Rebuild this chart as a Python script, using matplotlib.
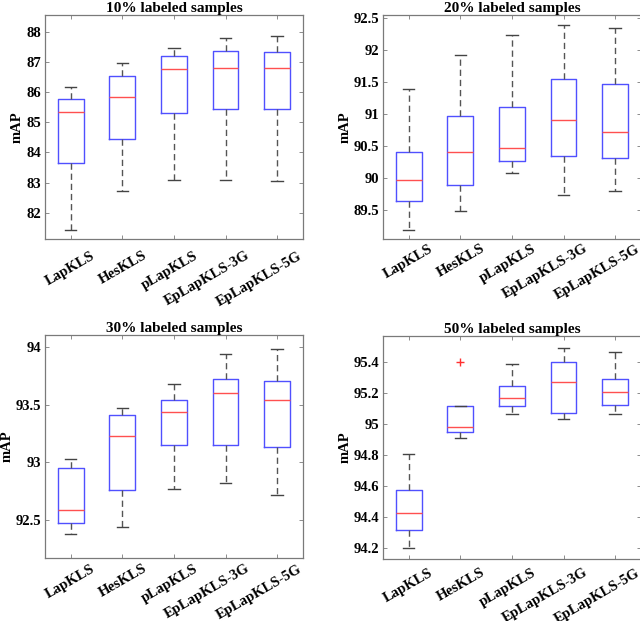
import matplotlib
matplotlib.use("Agg")
import matplotlib.pyplot as plt
import matplotlib.transforms as mtransforms

plt.rcParams['font.family'] = ['Liberation Serif', 'DejaVu Serif']
plt.rcParams['font.weight'] = 'bold'

methods = ["LapKLS", "HesKLS", "pLapKLS", "EpLapKLS-3G", "EpLapKLS-5G"]
titles = ["10% labeled samples", "20% labeled samples",
          "30% labeled samples", "50% labeled samples"]

# box statistics per panel: lower whisker, Q1, median, Q3, upper whisker
lo_10 = [81.43, 82.73, 83.10, 83.07, 83.04]
q1_10 = [83.64, 84.44, 85.29, 85.43, 85.44]
med_10 = [85.33, 85.85, 86.76, 86.78, 86.78]
q3_10 = [85.78, 86.52, 87.20, 87.37, 87.31]
hi_10 = [86.15, 86.97, 87.47, 87.78, 87.85]

lo_20 = [89.18, 89.48, 90.08, 89.73, 89.79]
q1_20 = [89.64, 89.89, 90.26, 90.34, 90.31]
med_20 = [89.96, 90.41, 90.46, 90.90, 90.72]
q3_20 = [90.40, 90.96, 91.11, 91.54, 91.47]
hi_20 = [91.39, 91.92, 92.23, 92.39, 92.35]

lo_30 = [92.385, 92.44, 92.77, 92.82, 92.72]
q1_30 = [92.48, 92.76, 93.155, 93.15, 93.13]
med_30 = [92.59, 93.23, 93.44, 93.60, 93.54]
q3_30 = [92.95, 93.41, 93.54, 93.72, 93.70]
hi_30 = [93.03, 93.47, 93.68, 93.94, 93.98]

lo_50 = [94.198, 94.91, 95.067, 95.036, 95.065]
q1_50 = [94.32, 94.95, 95.116, 95.073, 95.125]
med_50 = [94.43, 94.985, 95.17, 95.275, 95.21]
q3_50 = [94.576, 95.116, 95.245, 95.40, 95.29]
hi_50 = [94.81, 95.116, 95.39, 95.49, 95.465]
fliers_50 = [[], [95.40], [], [], []]

panels = [
    (lo_10, q1_10, med_10, q3_10, hi_10, [[]] * 5),
    (lo_20, q1_20, med_20, q3_20, hi_20, [[]] * 5),
    (lo_30, q1_30, med_30, q3_30, hi_30, [[]] * 5),
    (lo_50, q1_50, med_50, q3_50, hi_50, fliers_50),
]
ylims = [(81.13, 88.55), (89.04, 92.55), (92.175, 94.10), (94.13, 95.57)]
yticks = [[82, 83, 84, 85, 86, 87, 88],
          [89.5, 90, 90.5, 91, 91.5, 92, 92.5],
          [92.5, 93, 93.5, 94],
          [94.2, 94.4, 94.6, 94.8, 95, 95.2, 95.4]]

# axes rectangles (figure fraction), ylabel x (axes fraction),
# and vertical shift of the rotated x labels (inches)
rects = [[0.0703, 0.6151, 0.403, 0.3607],
         [0.5984, 0.6151, 0.403, 0.3607],
         [0.0703, 0.1014, 0.403, 0.3590],
         [0.5984, 0.0998, 0.403, 0.3590]]
ylab_x = [-0.081, -0.12, -0.12, -0.12]
lab_dy = [-0.06, 0.01, 0.0, -0.03]

fig = plt.figure(figsize=(6.4, 6.21), dpi=100)
spine_col = "#7a7a7a"
axes = []

for i, (lo, q1, med, q3, hi, fl) in enumerate(panels):
    ax = fig.add_axes(rects[i])
    stats = []
    for j in range(len(methods)):
        stats.append({"whislo": lo[j], "q1": q1[j], "med": med[j],
                      "q3": q3[j], "whishi": hi[j], "fliers": fl[j]})
    ax.bxp(stats, positions=range(1, 6), widths=0.5, capwidths=0.22,
           boxprops=dict(color="#5050ff", linewidth=1.0),
           medianprops=dict(color="#ff5050", linewidth=1.0),
           whiskerprops=dict(color="#555555", linewidth=1.0,
                             linestyle=(0, (4.5, 2.8))),
           capprops=dict(color="#444444", linewidth=1.0),
           flierprops=dict(marker="+", markeredgecolor="#ff3030",
                           markersize=6, linestyle="none"))

    ax.set_xlim(0.5, 5.5)
    ax.set_ylim(*ylims[i])
    ax.set_yticks(yticks[i])
    ax.set_yticklabels(["%g" % v for v in yticks[i]], fontsize=10.5)
    ax.set_xticks(range(1, 6))
    ax.set_xticklabels(methods, fontsize=10.5, rotation=30,
                       ha="right", va="top", rotation_mode="anchor")

    ax.tick_params(direction="in", length=3, width=0.6, color=spine_col,
                   top=True, right=True, pad=3)
    for sp in ax.spines.values():
        sp.set_color(spine_col)
        sp.set_linewidth(0.9)

    ax.set_title(titles[i], fontsize=11, fontweight="bold", pad=2)
    ax.set_ylabel("mAP", fontsize=10.5, fontweight="bold")
    ax.yaxis.set_label_coords(ylab_x[i], 0.5)
    axes.append(ax)

# shift the rotated x labels like MATLAB places them
fig.canvas.draw()
for ax, dy in zip(axes, lab_dy):
    offset = mtransforms.ScaledTranslation(0.20, dy, fig.dpi_scale_trans)
    for tick in ax.xaxis.get_major_ticks():
        tick.label1.set_transform(tick.label1.get_transform() + offset)

fig.savefig("out.png", dpi=100)
